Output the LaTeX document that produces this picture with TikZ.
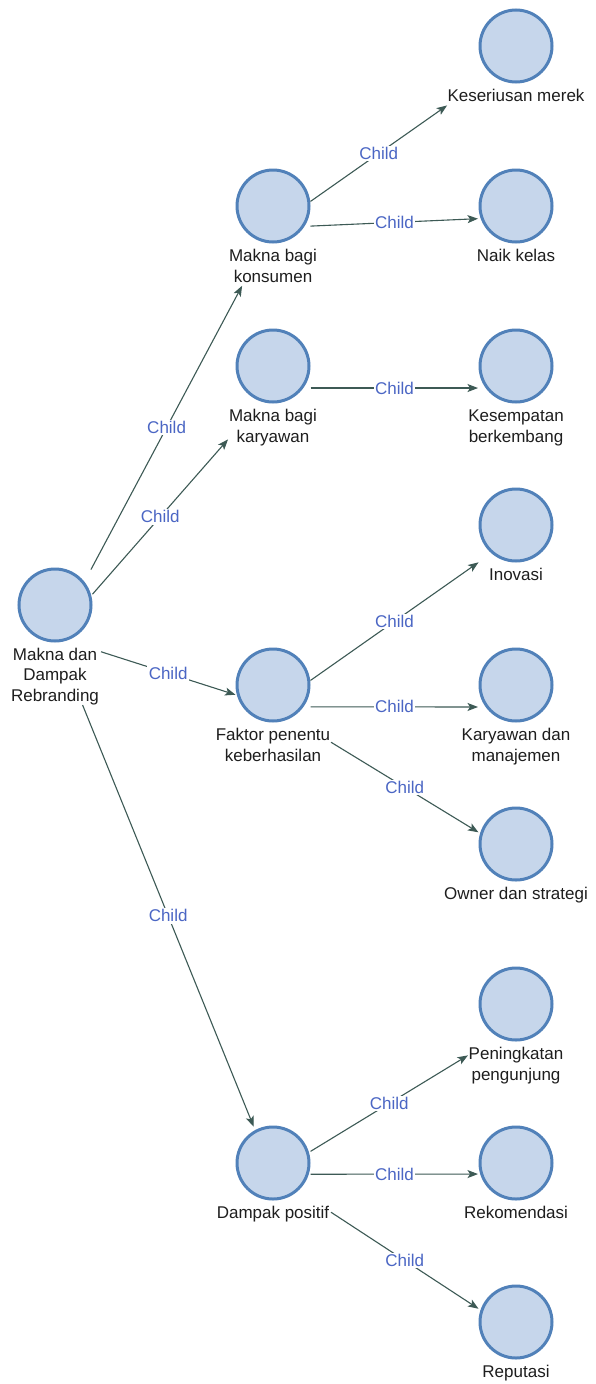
\documentclass[tikz,border=0pt]{standalone}
\usepackage{fontspec}
\setmainfont{Liberation Sans}
\usetikzlibrary{arrows.meta,fit}

\definecolor{bubblefill}{HTML}{C6D6EB}
\definecolor{ringblue}{HTML}{5181B9}
\definecolor{edgegreen}{HTML}{3D5A55}
\definecolor{childblue}{HTML}{4B66C4}
\definecolor{textgray}{HTML}{1E1E1E}

\newcommand\lblfont{\fontsize{17}{20}\selectfont}
% line strut: 17pt above and 3pt below the baseline, so each line is 20pt tall
\newcommand\lstrut{\rule[-3pt]{0pt}{20pt}}

\tikzset{
  bubble/.style={circle, minimum size=72pt, inner sep=0pt, outer sep=0pt,
    line width=3pt, draw=ringblue, fill=bubblefill},
  caption/.style={anchor=north, inner sep=0pt, outer sep=0pt, align=center,
    font=\lblfont, text=textgray},
  grp/.style={rectangle, inner sep=0pt, outer sep=0pt, fit=#1},
  link/.style={draw=edgegreen, line width=1.1pt,
    -{Stealth[length=10.5pt,width=8pt,inset=2.5pt]}},
  tag/.style={font=\lblfont, text=childblue, fill=white, inner sep=1.5pt}
}

\begin{document}
\begin{tikzpicture}[x=1pt,y=-1pt]
\path[use as bounding box, fill=white] (0,0) rectangle (595,1384);

% root
\node[bubble] (c0) at (55,605) {};
\node[caption] (l0) at (55,643) {\lstrut Makna dan\\\lstrut Dampak\\\lstrut Rebranding};
\node[grp={(c0)(l0)}] (g0) {};

% second level
\node[bubble] (c1) at (273,206) {};
\node[caption] (l1) at (273,244) {\lstrut Makna bagi\\\lstrut konsumen};
\node[grp={(c1)(l1)}] (g1) {};

\node[bubble] (c2) at (273,366) {};
\node[caption] (l2) at (273,404) {\lstrut Makna bagi\\\lstrut karyawan};
\node[grp={(c2)(l2)}] (g2) {};

\node[bubble] (c3) at (273,685) {};
\node[caption] (l3) at (273,723) {\lstrut Faktor penentu\\\lstrut keberhasilan};
\node[grp={(c3)(l3)}] (g3) {};

\node[bubble] (c4) at (273,1163) {};
\node[caption] (l4) at (273,1201) {\lstrut Dampak positif};
\node[grp={(c4)(l4)}] (g4) {};

% leaves
\node[bubble] (rc1) at (516,46) {};
\node[caption] (rl1) at (516,84) {\lstrut Keseriusan merek};
\node[grp={(rc1)(rl1)}] (r1) {};

\node[bubble] (rc2) at (516,206) {};
\node[caption] (rl2) at (516,244) {\lstrut Naik kelas};
\node[grp={(rc2)(rl2)}] (r2) {};

\node[bubble] (rc3) at (516,366) {};
\node[caption] (rl3) at (516,404) {\lstrut Kesempatan\\\lstrut berkembang};
\node[grp={(rc3)(rl3)}] (r3) {};

\node[bubble] (rc4) at (516,525) {};
\node[caption] (rl4) at (516,563) {\lstrut Inovasi};
\node[grp={(rc4)(rl4)}] (r4) {};

\node[bubble] (rc5) at (516,685) {};
\node[caption] (rl5) at (516,723) {\lstrut Karyawan dan\\\lstrut manajemen};
\node[grp={(rc5)(rl5)}] (r5) {};

\node[bubble] (rc6) at (516,844) {};
\node[caption] (rl6) at (516,882) {\lstrut Owner dan strategi};
\node[grp={(rc6)(rl6)}] (r6) {};

\node[bubble] (rc7) at (516,1004) {};
\node[caption] (rl7) at (516,1042) {\lstrut Peningkatan\\\lstrut pengunjung};
\node[grp={(rc7)(rl7)}] (r7) {};

\node[bubble] (rc8) at (516,1163) {};
\node[caption] (rl8) at (516,1201) {\lstrut Rekomendasi};
\node[grp={(rc8)(rl8)}] (r8) {};

\node[bubble] (rc9) at (516,1322) {};
\node[caption] (rl9) at (516,1360) {\lstrut Reputasi};
\node[grp={(rc9)(rl9)}] (r9) {};

% connectors run between group centres, trimmed to the group outlines
\draw[link, shorten <=76.5pt, shorten >=65.7pt] (g0.center) -- node[tag, pos=0.512] {Child} (g1.center);
\draw[link, shorten <=56.9pt, shorten >=68.3pt] (g0.center) -- node[tag, pos=0.483] {Child} (g2.center);
\draw[link, shorten <=48.3pt, shorten >=39.4pt] (g0.center) -- node[tag, pos=0.519] {Child} (g3.center);
\draw[link, shorten <=73.4pt, shorten >=51.3pt] (g0.center) -- node[tag, pos=0.519] {Child} (g4.center);

\draw[link, shorten <=45.8pt, shorten >=84.2pt] (g1.center) -- node[tag, pos=0.435] {Child} (r1.center);
\draw[link, shorten <=37.5pt, shorten >=38pt] (g1.center) -- node[tag, pos=0.5] {Child} (r2.center);

\draw[link, shorten <=37.5pt, shorten >=38pt] (g2.center) -- node[tag, pos=0.5] {Child} (r3.center);

\draw[link, shorten <=45.8pt, shorten >=45.8pt] (g3.center) -- node[tag, pos=0.5] {Child} (r4.center);
\draw[link, shorten <=37.5pt, shorten >=38pt] (g3.center) -- node[tag, pos=0.5] {Child} (r5.center);
\draw[link, shorten <=68pt, shorten >=44pt] (g3.center) -- node[tag, pos=0.542] {Child} (r6.center);

\draw[link, shorten <=44pt, shorten >=56.3pt] (g4.center) -- node[tag, pos=0.478] {Child} (r7.center);
\draw[link, shorten <=37.5pt, shorten >=38pt] (g4.center) -- node[tag, pos=0.5] {Child} (r8.center);
\draw[link, shorten <=69.3pt, shorten >=44.8pt] (g4.center) -- node[tag, pos=0.542] {Child} (r9.center);
\end{tikzpicture}
\end{document}
